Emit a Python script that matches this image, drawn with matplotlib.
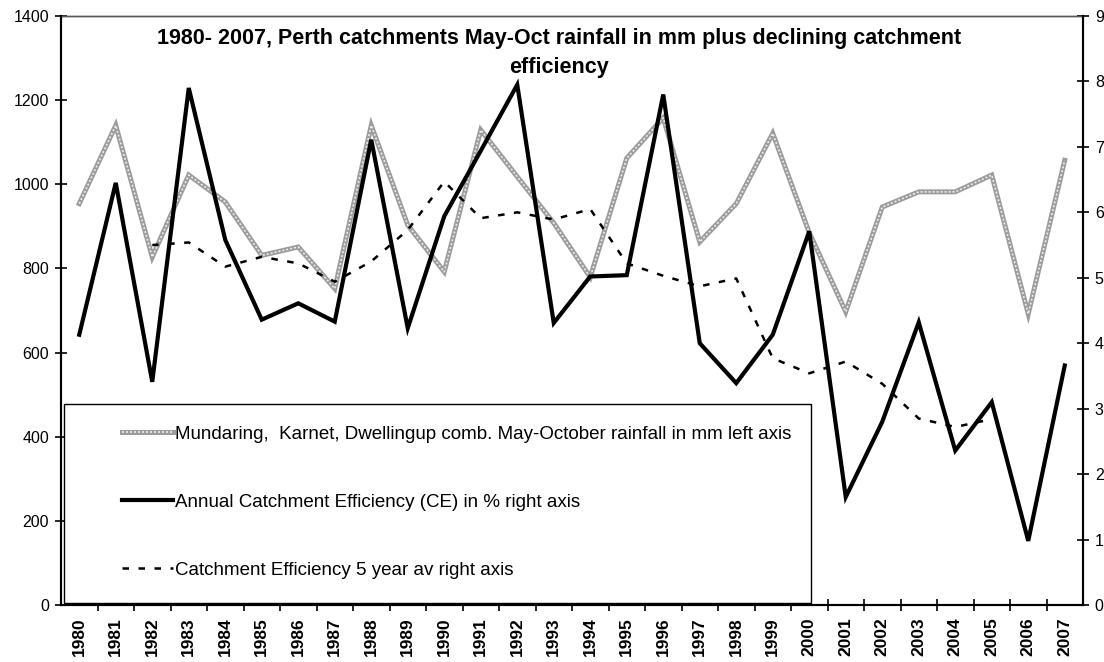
"""
Plot Perth catchments May-Oct rainfall and catchment efficiency, 1980-2007
"""

import numpy as np
import matplotlib
matplotlib.use("Agg")
import matplotlib.pyplot as plt
from matplotlib.patches import Rectangle
from matplotlib.legend_handler import HandlerTuple

plt.rcParams['font.family'] = ['Liberation Sans', 'DejaVu Sans']

years = [str(y) for y in range(1980, 2008)]

# Mundaring, Karnet, Dwellingup combined May-Oct rainfall (mm, left axis)
rainfall = [954, 1140, 827, 1022, 958, 831, 851, 752, 1140, 903,
            792, 1129, 1018, 908, 779, 1062, 1158, 863, 954, 1121,
            885, 697, 946, 982, 982, 1022, 692, 1057]

# annual catchment efficiency (%, right axis)
ce_annual = [4.13, 6.45, 3.41, 7.90, 5.58, 4.36, 4.61, 4.33, 7.11, 4.23,
             5.94, 6.94, 7.95, 4.31, 5.02, 5.04, 7.80, 4.00, 3.39, 4.13,
             5.71, 1.65, 2.80, 4.32, 2.36, 3.10, 0.98, 3.66]

# 5 year average catchment efficiency (%, right axis), centred
ce_5yr = [np.nan, np.nan, 5.50, 5.54, 5.17, 5.32, 5.22, 4.94, 5.25, 5.73,
          6.47, 5.91, 6.00, 5.89, 6.05, 5.22, 5.03, 4.87, 4.99, 3.77,
          3.54, 3.72, 3.38, 2.85, 2.72, 2.84, np.nan, np.nan]

labels = ["Mundaring,  Karnet, Dwellingup comb. May-October rainfall in mm left axis",
          "Annual Catchment Efficiency (CE) in % right axis",
          "Catchment Efficiency 5 year av right axis"]

title = ("1980- 2007, Perth catchments May-Oct rainfall in mm plus declining catchment\n"
         "efficiency")


def plot_chart(outfile):
    fig = plt.figure(figsize=(11.04, 6.62), dpi=100)
    ax = fig.add_axes([61 / 1104, 1 - 605 / 662, 1022 / 1104, 589 / 662])
    ax2 = ax.twinx()

    x = np.arange(len(years))

    # rainfall: grey chain-like line
    g_outer, = ax.plot(x, rainfall, color='#9c9c9c', lw=3.6, zorder=2,
                       solid_joinstyle='miter')
    g_inner, = ax.plot(x, rainfall, color='#ececec', lw=1.2, zorder=3,
                       linestyle=(0, (1.2, 1.2)))

    ce_line, = ax2.plot(x, ce_annual, color='black', lw=3.0, zorder=4,
                        solid_joinstyle='miter')
    av_line, = ax2.plot(x, ce_5yr, color='black', lw=1.8, zorder=4,
                        linestyle=(0, (2.6, 3.8)))

    ax.set_xlim(-0.5, len(years) - 0.5)
    ax.set_ylim(0, 1400)
    ax.set_yticks(np.arange(0, 1401, 200))
    ax2.set_ylim(0, 9)
    ax2.set_yticks(np.arange(0, 10, 1))

    # labels at category centres, tick marks at category boundaries
    ax.set_xticks(x)
    ax.set_xticklabels(years, rotation=90, fontsize=12.5, fontweight='bold')
    ax.set_xticks(np.arange(0.5, len(years) - 0.5, 1), minor=True)
    ax.tick_params(axis='x', which='major', length=0, pad=9)
    ax.tick_params(axis='x', which='minor', length=0)
    ax.tick_params(axis='y', direction='inout', length=9, width=1.2,
                   labelsize=11.5, pad=4)
    ax2.tick_params(axis='y', direction='inout', length=9, width=1.2,
                    labelsize=11.5, pad=4)

    # boundary ticks drawn on the top axes so the legend box does not hide them
    ax2.xaxis.set_visible(True)
    ax2.tick_params(axis='x', which='major', length=0, labelbottom=False,
                    top=False)
    ax2.tick_params(axis='x', which='minor', bottom=True, top=False,
                    direction='inout', length=8, width=1.2)

    for a in (ax, ax2):
        for side in ('left', 'right', 'bottom'):
            a.spines[side].set_linewidth(1.5)
            a.spines[side].set_color('black')
            a.spines[side].set_zorder(7)
        a.spines['top'].set_linewidth(1.0)
        a.spines['top'].set_color('#555555')

    ax2.text(0.487, 0.979, title, transform=ax2.transAxes, ha='center',
             va='top', fontsize=15.5, fontweight='bold', linespacing=1.5,
             zorder=6)

    # legend box in the lower left
    box = Rectangle((0.003, 0.004), 0.731, 0.337, transform=ax2.transAxes,
                    facecolor='white', edgecolor='black', lw=1.0, zorder=5)
    ax2.add_patch(box)
    leg = ax2.legend([(g_outer, g_inner), ce_line, av_line], labels,
                     handler_map={tuple: HandlerTuple(ndivide=1)},
                     loc='upper left', bbox_to_anchor=(0.0597, 0.3048),
                     frameon=False, fontsize=13.5, borderpad=0,
                     borderaxespad=0, labelspacing=2.72, handlelength=2.7,
                     handletextpad=0.15)
    leg.set_zorder(6)

    fig.savefig(outfile, dpi=100)


if __name__ == "__main__":
    plot_chart("out.png")
